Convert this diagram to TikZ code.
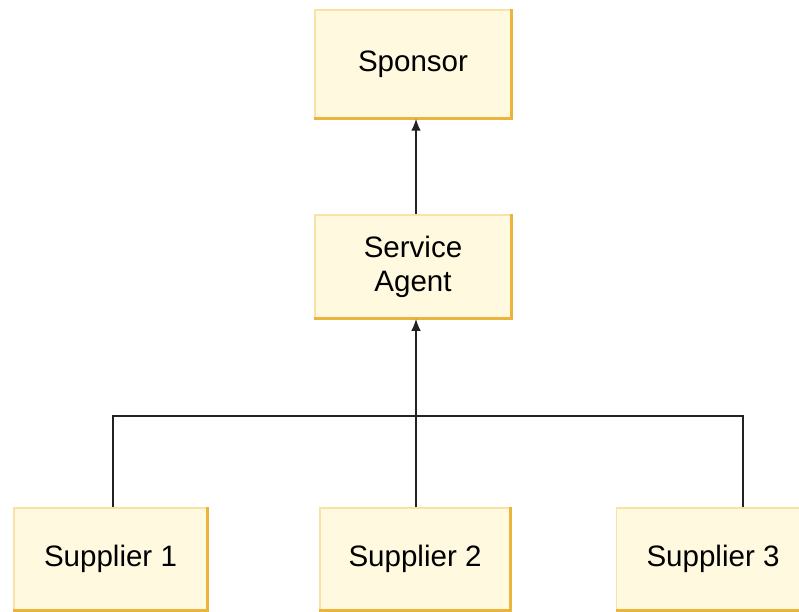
\documentclass[tikz,border=0pt]{standalone}
\usepackage{fontspec}
\setmainfont{Liberation Sans}
\usetikzlibrary{arrows.meta,positioning}
\definecolor{CardFill}{HTML}{FFF9E0}
\definecolor{CardEdge}{HTML}{F8E2A8}
\definecolor{CardRim}{HTML}{EDB43C}
\definecolor{LinkGray}{HTML}{222222}

\begin{document}
\begin{tikzpicture}[x=0.025cm,y=-0.025cm,
  every node/.style={font=\fontsize{21}{24}\selectfont,align=center},
  card/.style={draw=CardEdge,fill=CardFill,line width=1pt,inner sep=0pt,
               minimum width=4.9cm,minimum height=2.6cm},
  rim/.style={draw=CardRim,line width=2.2pt},
  link/.style={draw=LinkGray,line width=1.1pt},
  arr/.style={link,-{Latex[length=3mm,width=2.4mm]}}
]
  \useasboundingbox (0,0) rectangle (799,611);

  \node[card,minimum height=2.7cm] (sponsor) at (413,64) {Sponsor};
  \node[card,minimum height=2.58cm] (agent) at (413,266.5) {Service\\Agent};
  \node[card,minimum width=4.83cm,minimum height=2.55cm] (sup1) at (110.5,559) {Supplier 1};
  \node[card,minimum width=4.75cm,minimum height=2.55cm] (sup2) at (415,559) {Supplier 2};
  \node[card,minimum width=4.83cm,minimum height=2.55cm] (sup3) at (713,559) {Supplier 3};

  % orange rim on the bottom and right side of every card
  \foreach \n in {sponsor,agent,sup1,sup2,sup3}
    \draw[rim] (\n.south west) -- (\n.south east) -- (\n.north east);

  \coordinate (busL) at (113,416);
  \coordinate (busM) at (416,416);
  \coordinate (busR) at (743,416);
  \draw[link] (busL |- sup1.north) -- (busL) -- (busR) -- (busR |- sup3.north);
  \draw[arr] (busM |- sup2.north) -- (busM |- agent.south);
  \draw[arr] (busM |- agent.north) -- (busM |- sponsor.south);
\end{tikzpicture}
\end{document}
